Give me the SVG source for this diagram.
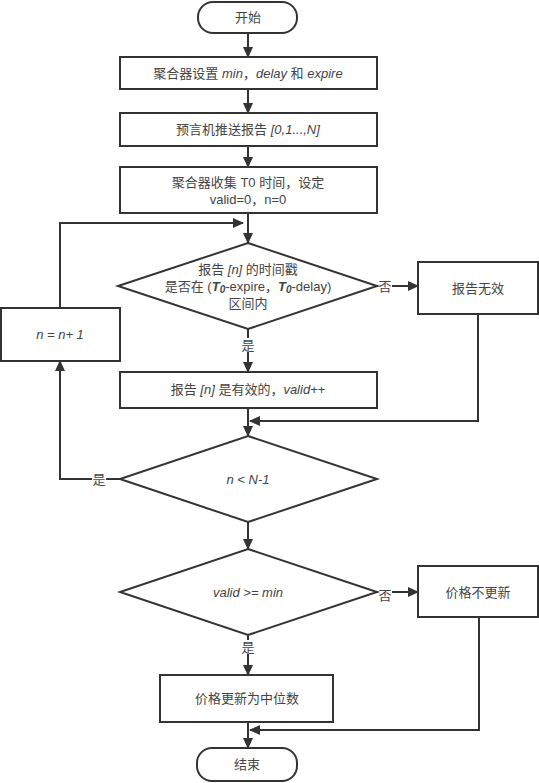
<svg xmlns="http://www.w3.org/2000/svg" width="539" height="783" viewBox="0 0 539 783">
<defs>
<marker id="arr" markerWidth="11" markerHeight="10" refX="10" refY="5" orient="auto" markerUnits="userSpaceOnUse">
<path d="M0,0 L11,5 L0,10 Z" fill="#333"/>
</marker>
<style>
.s{fill:#fff;stroke:#333;stroke-width:2}
.c{fill:none;stroke:#333;stroke-width:2;marker-end:url(#arr)}
text{font-family:"Liberation Sans","Noto Sans CJK SC",sans-serif;font-size:13px;fill:#444;text-anchor:middle}
.i{font-style:italic}
.lb{fill:#fff}
</style>
</defs>
<rect width="539" height="783" fill="#fff"/>
<g id="connectors">
<path class="c" d="M248,33 V57"/>
<path class="c" d="M248,89 V113"/>
<path class="c" d="M248,146 V167"/>
<path class="c" d="M248,213 V243"/>
<path class="c" d="M60,308 V223 H243"/>
<path class="c" d="M377,286 H418"/>
<path class="c" d="M248,329 V372"/>
<path class="c" d="M248,408 V436"/>
<path class="c" d="M478,314 V421 H250"/>
<path class="c" d="M120,479 H60 V361"/>
<path class="c" d="M248,522 V549"/>
<path class="c" d="M377,592 H418"/>
<path class="c" d="M248,635 V675"/>
<path class="c" d="M248,722 V748"/>
<path class="c" d="M479,617 V730 H250"/>
<rect class="lb" x="378" y="279" width="14" height="14"/>
<text x="385" y="291">否</text>
<rect class="lb" x="241" y="338" width="14" height="14"/>
<text x="248" y="350">是</text>
<rect class="lb" x="92" y="472" width="14" height="14"/>
<text x="99" y="484">是</text>
<rect class="lb" x="378" y="588" width="14" height="14"/>
<text x="385" y="600">否</text>
<rect class="lb" x="241" y="640" width="14" height="14"/>
<text x="248" y="652">是</text>
</g>
<g id="start">
<rect class="s" x="198" y="2" width="99" height="31" rx="15"/>
<text x="248" y="22">开始</text>
</g>
<g id="set">
<rect class="s" x="120" y="57" width="257" height="32"/>
<text x="248" y="78">聚合器设置 <tspan class="i">min</tspan>，<tspan class="i">delay</tspan> 和 <tspan class="i">expire</tspan></text>
</g>
<g id="push">
<rect class="s" x="120" y="113" width="257" height="33"/>
<text x="248" y="134">预言机推送报告 <tspan class="i">[0,1...,N]</tspan></text>
</g>
<g id="collect">
<rect class="s" x="120" y="167" width="257" height="46"/>
<text x="248" y="187">聚合器收集 T0 时间，设定</text>
<text x="248" y="204">valid=0，n=0</text>
</g>
<g id="check">
<path class="s" d="M248,243 L377,286 L248,329 L118,286 Z"/>
<text x="248" y="274">报告 <tspan class="i">[n]</tspan> 的时间戳</text>
<text x="248" y="291">是否在 (<tspan class="i" font-weight="bold">T</tspan><tspan class="i" font-weight="bold" font-size="10" dy="2">0</tspan><tspan dy="-2">-expire，</tspan><tspan class="i" font-weight="bold">T</tspan><tspan class="i" font-weight="bold" font-size="10" dy="2">0</tspan><tspan dy="-2">-delay)</tspan></text>
<text x="248" y="308">区间内</text>
</g>
<g id="invalid">
<rect class="s" x="418" y="262" width="120" height="52"/>
<text x="478" y="293">报告无效</text>
</g>
<g id="inc">
<rect class="s" x="1" y="308" width="119" height="53"/>
<text x="60" y="339" class="i">n =  n+ 1</text>
</g>
<g id="valid">
<rect class="s" x="120" y="372" width="257" height="36"/>
<text x="248" y="394">报告 <tspan class="i">[n]</tspan> 是有效的，<tspan class="i">valid</tspan>++</text>
</g>
<g id="loop">
<path class="s" d="M248,436 L377,479 L248,522 L120,479 Z"/>
<text x="248" y="484" class="i">n &lt;  N-1</text>
</g>
<g id="enough">
<path class="s" d="M248,549 L377,592 L248,635 L120,592 Z"/>
<text x="248" y="597" class="i">valid &gt;=  min</text>
</g>
<g id="noupdate">
<rect class="s" x="418" y="566" width="120" height="51"/>
<text x="478" y="597">价格不更新</text>
</g>
<g id="update">
<rect class="s" x="160" y="675" width="173" height="47"/>
<text x="247" y="703">价格更新为中位数</text>
</g>
<g id="end">
<rect class="s" x="197" y="748" width="100" height="33" rx="15"/>
<text x="247" y="769">结束</text>
</g>
</svg>
